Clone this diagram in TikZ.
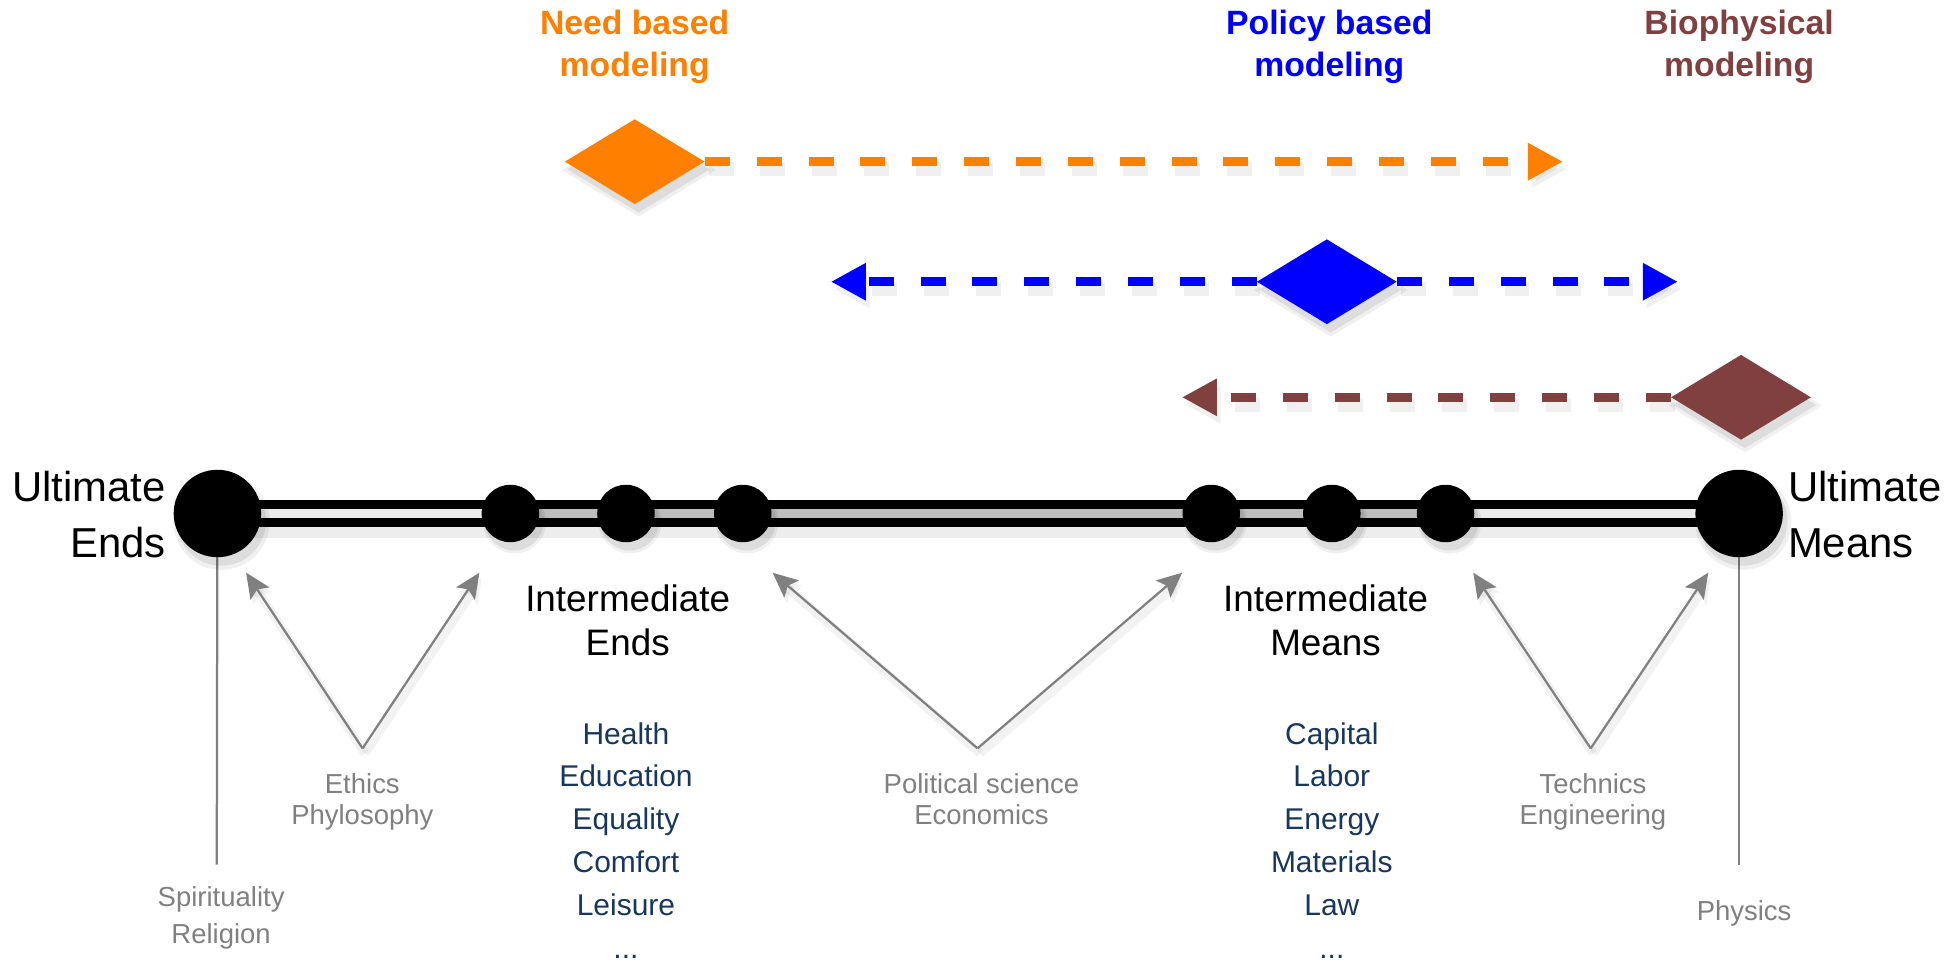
\documentclass[tikz,border=0pt]{standalone}
\usepackage{fontspec}
\setmainfont{Liberation Sans}
\usetikzlibrary{shapes.geometric,arrows.meta,shadows,backgrounds}
\definecolor{needc}{RGB}{255,128,0}
\definecolor{policyc}{RGB}{0,0,255}
\definecolor{bioc}{RGB}{128,64,64}
\definecolor{listc}{RGB}{23,55,94}
\definecolor{notec}{RGB}{128,128,128}
\definecolor{lightfill}{RGB}{236,236,236}
\definecolor{midfill}{RGB}{190,190,190}
\tikzset{
    softshadow/.style={general shadow={fill=black,opacity=.06,shadow xshift=3pt,shadow yshift=-6pt,shadow scale=1.1},
                       general shadow={fill=black,opacity=.08,shadow xshift=3pt,shadow yshift=-6pt,shadow scale=1.02}},
    bigdot/.style={circle,fill=black,inner sep=0pt,minimum size=70pt,softshadow},
    smalldot/.style={circle,fill=black,inner sep=0pt,minimum size=46pt,softshadow},
    gem/.style={diamond,fill=#1,inner sep=0pt,minimum width=112pt,minimum height=68pt,softshadow},
    modelarrow/.style={draw=#1,line width=7pt,dash pattern=on 20pt off 21.5pt,-{Triangle[length=28pt,width=28pt]},
                       preaction={draw=black,opacity=.06,line width=11pt,dash pattern=on 20pt off 21.5pt,
                                  transform canvas={shift={(3pt,-6pt)}}}},
    axisline/.style={draw=black,line width=7.3pt,double=#1,double distance=6.7pt},
    notearrow/.style={draw=notec,line width=1.8pt,-{Stealth[length=20pt,width=18pt,inset=4pt]},
                      preaction={draw=black,opacity=.05,line width=7pt,transform canvas={shift={(2pt,-4pt)}}}},
    noteline/.style={draw=notec,line width=1.8pt},
    toplabel/.style={text=#1,align=center,anchor=base,inner sep=0pt,font=\fontsize{27}{33.5}\selectfont\bfseries},
    bigtext/.style={align=#1,inner sep=0pt,font=\fontsize{33.5}{45}\selectfont},
    midtext/.style={align=center,anchor=base,inner sep=0pt,font=\fontsize{29.5}{35.2}\selectfont},
    notetext/.style={text=notec,align=center,anchor=base,inner sep=0pt,font=\fontsize{22}{25.3}\selectfont},
    listtext/.style={text=listc,align=center,anchor=base,inner sep=0pt,font=\fontsize{24}{34.3}\selectfont}
}
\begin{document}
\begin{tikzpicture}[x=1pt,y=-1pt]
    \useasboundingbox (0,0) rectangle (1568,770);

    \node[toplabel=needc] (needlbl) at (508,61.4) {Need based\\modeling};
    \node[toplabel=policyc] (policylbl) at (1064,61.4) {Policy based\\modeling};
    \node[toplabel=bioc] (biolbl) at (1392,61.4) {Biophysical\\modeling};

    \node[gem=needc] (needgem) at (508,129.4) {};
    \node[gem=policyc] (policygem) at (1062,225.5) {};
    \node[gem=bioc] (biogem) at (1393.5,318) {};
    \coordinate (needtip) at (1251,129.4);
    \coordinate (policyltip) at (665,225.5);
    \coordinate (policyrtip) at (1343,225.5);
    \coordinate (biotip) at (946,318);
    \begin{scope}[on background layer]
        \draw[modelarrow=needc] (needgem.east) -- (needtip);
        \draw[modelarrow=policyc] (policygem.west) -- (policyltip);
        \draw[modelarrow=policyc] (policygem.east) -- (policyrtip);
        \draw[modelarrow=bioc] (biogem.west) -- (biotip);
    \end{scope}

    \node[bigdot] (ultends) at (174,411) {};
    \node[smalldot] (intends1) at (408.5,411) {};
    \node[smalldot] (intends2) at (501,411) {};
    \node[smalldot] (intends3) at (594.5,411) {};
    \node[smalldot] (intmeans1) at (969.5,411) {};
    \node[smalldot] (intmeans2) at (1066,411) {};
    \node[smalldot] (intmeans3) at (1157,411) {};
    \node[bigdot] (ultmeans) at (1392,411) {};
    \begin{scope}[on background layer]
        \draw[line width=27pt,opacity=.07,transform canvas={shift={(2pt,-6pt)}}] (ultends.center) -- (ultmeans.center);
        \foreach \a/\b/\c in {ultends/intends1/lightfill,intends1/intends2/midfill,intends2/intends3/midfill,
                              intends3/intmeans1/midfill,intmeans1/intmeans2/midfill,intmeans2/intmeans3/midfill,
                              intmeans3/ultmeans/lightfill}
            \draw[axisline=\c] (\a.center) -- (\b.center);
    \end{scope}

    \node[bigtext=right,anchor=base east] (ultendslbl) at (133,446.6) {Ultimate\\Ends};
    \node[bigtext=left,anchor=base west] (ultmeanslbl) at (1431,446.6) {Ultimate\\Means};
    \node[midtext] (intendslbl) at (502.4,524.5) {Intermediate\\Ends};
    \node[midtext] (intmeanslbl) at (1061,524.5) {Intermediate\\Means};

    \node[listtext] (endslist) at (501,767) {Health\\Education\\Equality\\Comfort\\Leisure\\...};
    \node[listtext] (meanslist) at (1066,767) {Capital\\Labor\\Energy\\Materials\\Law\\...};

    \coordinate (ethics) at (290.2,599);
    \coordinate (politics) at (782.4,599);
    \coordinate (technics) at (1273.2,599);
    \coordinate (ethicsl) at (197,458.4);
    \coordinate (ethicsr) at (383.7,458.4);
    \coordinate (politicsl) at (618.4,458.4);
    \coordinate (politicsr) at (946.2,458.4);
    \coordinate (technicsl) at (1179.2,458.4);
    \coordinate (technicsr) at (1367.3,458.4);
    \coordinate (spiritend) at (173.5,692);
    \coordinate (physend) at (1392,692);
    \draw[notearrow] (ethics) -- (ethicsl);
    \draw[notearrow] (ethics) -- (ethicsr);
    \draw[notearrow] (politics) -- (politicsl);
    \draw[notearrow] (politics) -- (politicsr);
    \draw[notearrow] (technics) -- (technicsl);
    \draw[notearrow] (technics) -- (technicsr);
    \begin{scope}[on background layer]
        \draw[noteline] (ultends.center) -- (spiritend);
        \draw[noteline] (ultmeans.center) -- (physend);
    \end{scope}

    \node[notetext] (ethicslbl) at (290,660.3) {Ethics\\Phylosophy};
    \node[notetext] (politicslbl) at (785.6,660.3) {Political science\\Economics};
    \node[notetext] (technicslbl) at (1275,660.3) {Technics\\Engineering};
    \node[notetext,font=\fontsize{22}{29.3}\selectfont] (spiritlbl) at (177,755) {Spirituality\\Religion};
    \node[notetext] (physlbl) at (1396,737) {Physics};
\end{tikzpicture}
\end{document}
